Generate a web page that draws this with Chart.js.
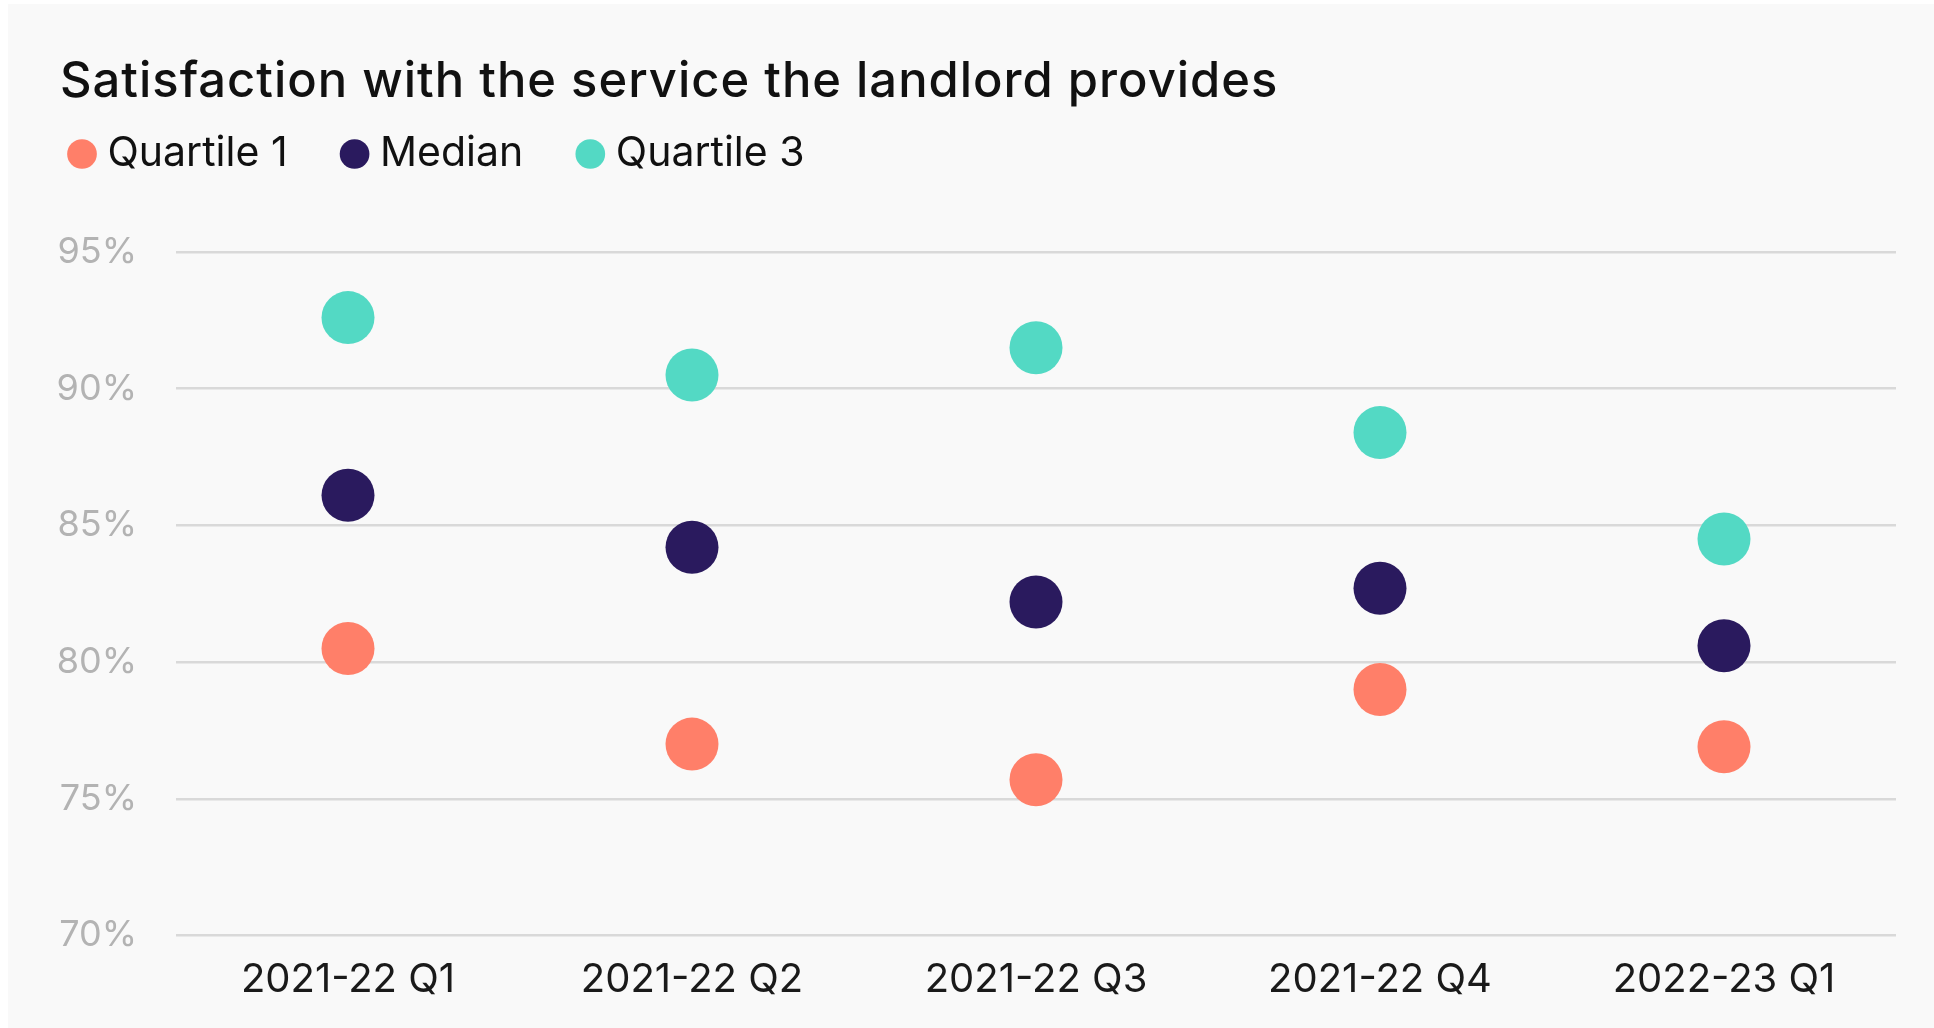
<!DOCTYPE html>
<html>
<head>
<meta charset="utf-8">
<script src="https://cdn.jsdelivr.net/npm/chart.js@4.4.1/dist/chart.umd.min.js"></script>
<style>
  html, body { margin: 0; padding: 0; background: #ffffff; }
  body { width: 1934px; height: 1028px; position: relative; overflow: hidden; }
  #card {
    position: absolute; left: 8px; top: 4px; width: 1926px; height: 1024px;
    background: #f9f9f9;
  }
  #title {
    position: absolute; left: 60px; top: 56px; margin: 0;
    font-family: "Inter", sans-serif; font-weight: 500; font-size: 48.9px;
    line-height: 1; color: #111111; letter-spacing: 1px; white-space: nowrap;
  }
</style>
</head>
<body>
<div id="card"><canvas id="chart"></canvas></div>
<h1 id="title">Satisfaction with the service the landlord provides</h1>
<script>
// dane
const quarters = ["2021-22 Q1", "2021-22 Q2", "2021-22 Q3", "2021-22 Q4", "2022-23 Q1"];
const quartile1 = [80.5, 77.0, 75.7, 79.0, 76.9];
const median = [86.1, 84.2, 82.2, 82.7, 80.6];
const quartile3 = [92.6, 90.5, 91.5, 88.4, 84.5];
const yMin = 70;
const yMax = 95;
const yStep = 5;

Chart.defaults.font.family = "Inter";

// extra room between legend and plot
const legendGap = {
  id: "legendGap",
  beforeInit(chart) {
    const fit = chart.legend.fit;
    chart.legend.fit = function () {
      fit.call(this);
      this.height += 67.5;
    };
  },
};

function series(label, data, color) {
  return {
    label: label,
    data: data,
    showLine: false,
    backgroundColor: color,
    borderColor: color,
    pointBackgroundColor: color,
    pointBorderColor: color,
    pointBorderWidth: 0,
    borderWidth: 0,
    pointRadius: 26.5,
    pointHoverRadius: 26.5,
  };
}

const ctx = document.getElementById("chart").getContext("2d");
new Chart(ctx, {
  type: "line",
  data: {
    labels: quarters,
    datasets: [
      series("Quartile 1", quartile1, "#ff7f69"),
      series("Median", median, "#2a1a5e"),
      series("Quartile 3", quartile3, "#53d9c4"),
    ],
  },
  options: {
    responsive: true,
    maintainAspectRatio: false,
    animation: false,
    layout: {
      padding: { top: 67.5, left: 7, right: 38, bottom: 11.5 },
    },
    plugins: {
      title: { display: false },
      tooltip: { enabled: false },
      legend: {
        display: true,
        position: "top",
        align: "start",
        labels: {
          usePointStyle: true,
          pointStyle: "circle",
          boxWidth: 10,
          boxHeight: 21,
          padding: 62,
          color: "#111111",
          font: { size: 41 },
        },
      },
    },
    scales: {
      x: {
        type: "category",
        offset: true,
        grid: { display: false },
        border: { display: false },
        ticks: {
          color: "#1a1a1a",
          padding: 12.5,
          font: { size: 40 },
        },
      },
      y: {
        min: yMin,
        max: yMax,
        border: { display: false },
        grid: { color: "#d9d9d9", lineWidth: 2.5, drawTicks: false },
        ticks: {
          stepSize: yStep,
          color: "#b3b3b3",
          padding: 39,
          font: { size: 36 },
          callback: (v) => v + "%",
        },
        afterFit(scale) {
          scale.width = 161;
        },
      },
    },
  },
  plugins: [legendGap],
});
</script>
</body>
</html>
